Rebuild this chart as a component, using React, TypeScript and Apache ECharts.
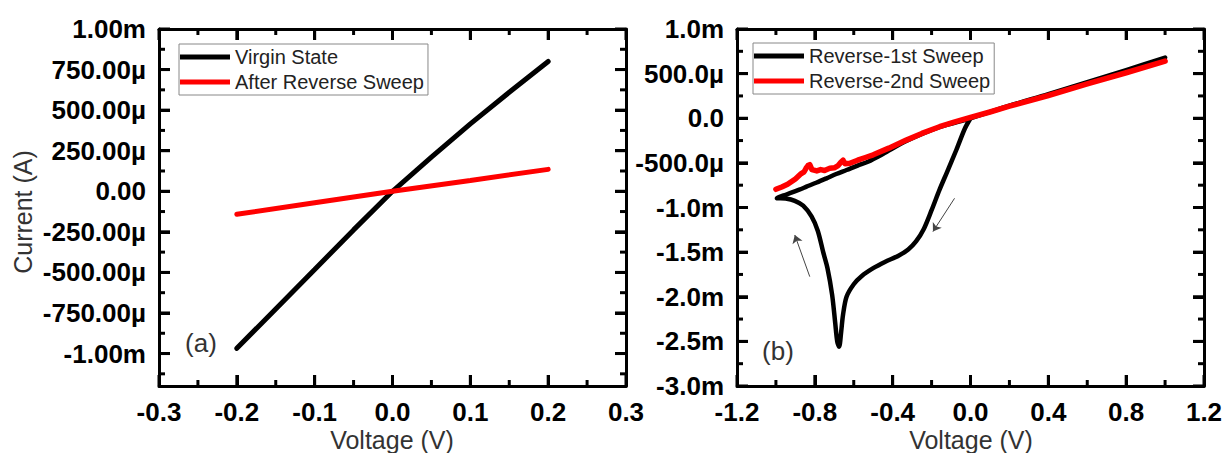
import React, { useEffect, useRef } from "react";
import * as echarts from "echarts";

// ---------- data (currents in mA, voltages in V) ----------
const virginState: [number, number][] = [
  [-0.2, -0.968], [-0.15, -0.725], [-0.1, -0.482], [-0.05, -0.238], [0, 0],
  [0.05, 0.21], [0.1, 0.415], [0.15, 0.61], [0.2, 0.8],
];
const afterReverseSweep: [number, number][] = [
  [-0.2, -0.142], [-0.1, -0.071], [0, 0], [0.1, 0.067], [0.2, 0.135],
];
const reverse1st: [number, number][] = [
  [0, 0], [-0.03, -0.12], [-0.073, -0.356], [-0.12, -0.6], [-0.159, -0.8],
  [-0.2, -1.03], [-0.24, -1.24], [-0.28, -1.38], [-0.32, -1.47], [-0.37, -1.54],
  [-0.44, -1.61], [-0.5, -1.68], [-0.56, -1.77], [-0.6, -1.86], [-0.637, -2.0],
  [-0.655, -2.2], [-0.665, -2.4], [-0.675, -2.56], [-0.685, -2.5], [-0.695, -2.3],
  [-0.711, -1.98], [-0.735, -1.68], [-0.757, -1.5], [-0.785, -1.26], [-0.817, -1.1],
  [-0.86, -0.98], [-0.903, -0.925], [-0.95, -0.9], [-0.995, -0.895],
  [-0.96, -0.865], [-0.928, -0.84], [-0.88, -0.8], [-0.843, -0.767], [-0.79, -0.72],
  [-0.74, -0.673], [-0.69, -0.625], [-0.637, -0.58], [-0.58, -0.53], [-0.527, -0.487],
  [-0.45, -0.4], [-0.33, -0.255], [-0.16, -0.1], [0, 0],
  [0.2, 0.14], [0.4, 0.27], [0.6, 0.405], [0.8, 0.54], [1.0, 0.68],
];
const reverse2nd: [number, number][] = [
  [-1.0, -0.796], [-0.97, -0.77], [-0.94, -0.74], [-0.9, -0.68], [-0.87, -0.62],
  [-0.855, -0.6], [-0.845, -0.56], [-0.835, -0.53], [-0.826, -0.52], [-0.815, -0.575], [-0.79, -0.59],
  [-0.77, -0.575], [-0.75, -0.585], [-0.723, -0.56], [-0.7, -0.555], [-0.68, -0.53],
  [-0.665, -0.49], [-0.655, -0.47], [-0.645, -0.51], [-0.62, -0.505], [-0.58, -0.47],
  [-0.54, -0.44], [-0.5, -0.41], [-0.42, -0.335], [-0.33, -0.245], [-0.25, -0.17],
  [-0.159, -0.095], [-0.08, -0.04], [0, 0.01], [0.1, 0.07], [0.2, 0.135],
  [0.4, 0.255], [0.6, 0.385], [0.8, 0.51], [1.0, 0.64],
];
// direction arrows in panel (b): [from, to]
const sweepArrows: [number, number][][] = [
  [[-0.082, -0.897], [-0.193, -1.27]],
  [[-0.826, -1.775], [-0.903, -1.308]],
];

// ---------- ticks ----------
const leftXMajor = [-0.3, -0.2, -0.1, 0, 0.1, 0.2, 0.3];
const leftXLabels = ["-0.3", "-0.2", "-0.1", "0.0", "0.1", "0.2", "0.3"];
const leftXMinor = [-0.25, -0.15, -0.05, 0.05, 0.15, 0.25];
const leftYMajor = [-1, -0.75, -0.5, -0.25, 0, 0.25, 0.5, 0.75, 1];
const leftYLabels = ["-1.00m", "-750.00µ", "-500.00µ", "-250.00µ", "0.00", "250.00µ", "500.00µ", "750.00µ", "1.00m"];
const leftYMinor = [-1.125, -0.875, -0.625, -0.375, -0.125, 0.125, 0.375, 0.625, 0.875];

const rightXMajor = [-1.2, -0.8, -0.4, 0, 0.4, 0.8, 1.2];
const rightXLabels = ["-1.2", "-0.8", "-0.4", "0.0", "0.4", "0.8", "1.2"];
const rightXMinor = [-1.0, -0.6, -0.2, 0.2, 0.6, 1.0];
const rightYMajor = [-3, -2.5, -2, -1.5, -1, -0.5, 0, 0.5, 1];
const rightYLabels = ["-3.0m", "-2.5m", "-2.0m", "-1.5m", "-1.0m", "-500.0µ", "0.0", "500.0µ", "1.0m"];
const rightYMinor = [-2.75, -2.25, -1.75, -1.25, -0.75, -0.25, 0.25, 0.75];

const FONT = "'Liberation Sans', Arial, sans-serif";
const MAJOR_LEN = 11;
const MINOR_LEN = 6;

function labelMap(vals: number[], labels: string[]) {
  return (v: number) => {
    for (let i = 0; i < vals.length; i++) if (Math.abs(vals[i] - v) < 1e-6) return labels[i];
    return "";
  };
}

export default function App() {
  const ref = useRef<HTMLDivElement>(null);
  useEffect(() => {
    if (!ref.current) return;
    const chart = echarts.init(ref.current, undefined, { renderer: "svg" });
    const leftRect = { left: 159, top: 29, width: 467, height: 357 };
    const rightRect = { left: 737, top: 29, width: 467, height: 357 };
    const LX: [number, number] = [-0.3, 0.3], LY: [number, number] = [-1.2, 1.0];
    const RX: [number, number] = [-1.2, 1.2], RY: [number, number] = [-3.0, 1.0];

    const grids: any[] = [];
    const xAxes: any[] = [];
    const yAxes: any[] = [];
    const line = { show: true, onZero: false, lineStyle: { color: "#000", width: 3 } };
    const lab = (vals: number[], labels: string[], margin: number) => ({
      show: true, customValues: vals, formatter: labelMap(vals, labels), margin,
      fontSize: 26, fontWeight: "bold", color: "#000", fontFamily: FONT,
    });
    const tk = (vals: number[]) => ({ show: true, inside: true, length: MAJOR_LEN, customValues: vals, lineStyle: { color: "#000", width: 3 } });
    const base = { type: "value", splitLine: { show: false } };

    const addMain = (rect: any, xr: [number, number], yr: [number, number], xM: number[], xL: string[], yM: number[], yL: string[]) => {
      const g = grids.length;
      grids.push({ ...rect, containLabel: false, outerBoundsMode: "none" });
      const xi = xAxes.length;
      xAxes.push({ ...base, gridIndex: g, position: "bottom", min: xr[0], max: xr[1], axisLine: line, axisTick: tk(xM), axisLabel: lab(xM, xL, 13) });
      xAxes.push({ ...base, gridIndex: g, position: "top", min: xr[0], max: xr[1], axisLine: line, axisTick: tk(xM), axisLabel: { show: false } });
      yAxes.push({ ...base, gridIndex: g, position: "left", min: yr[0], max: yr[1], axisLine: line, axisTick: tk(yM), axisLabel: lab(yM, yL, 13) });
      yAxes.push({ ...base, gridIndex: g, position: "right", min: yr[0], max: yr[1], axisLine: line, axisTick: tk(yM), axisLabel: { show: false } });
      return xi;
    };
    const L = addMain(leftRect, LX, LY, leftXMajor, leftXLabels, leftYMajor, leftYLabels);
    const R = addMain(rightRect, RX, RY, rightXMajor, rightXLabels, rightYMajor, rightYLabels);

    const legendCommon = {
      orient: "vertical", icon: "rect", itemWidth: 50, itemHeight: 5, itemGap: 5,
      borderColor: "#888", borderWidth: 1, padding: [3, 4, 3, 1],
      textStyle: { fontSize: 20, color: "#222", fontFamily: FONT },
    };
    const titleFont = `25px ${FONT}`;
    const texts = [
      { id: "ta", type: "text", x: 201, y: 343, style: { text: "(a)", font: `26px ${FONT}`, fill: "#333", align: "center", verticalAlign: "middle" } },
      { id: "tb", type: "text", x: 778, y: 351, style: { text: "(b)", font: `26px ${FONT}`, fill: "#333", align: "center", verticalAlign: "middle" } },
      { id: "tx1", type: "text", x: 392, y: 440, style: { text: "Voltage (V)", font: titleFont, fill: "#333", align: "center", verticalAlign: "middle" } },
      { id: "tx2", type: "text", x: 971, y: 440, style: { text: "Voltage (V)", font: titleFont, fill: "#333", align: "center", verticalAlign: "middle" } },
      { id: "ty", type: "text", x: 23, y: 212, rotation: Math.PI / 2, style: { text: "Current (A)", font: titleFont, fill: "#333", align: "center", verticalAlign: "middle" } },
    ];
    chart.setOption({
      animation: false,
      grid: grids,
      xAxis: xAxes,
      yAxis: yAxes,
      legend: [
        { ...legendCommon, left: 179, top: 44, data: ["Virgin State", "After Reverse Sweep"] },
        { ...legendCommon, left: 753, top: 43, data: ["Reverse-1st Sweep", "Reverse-2nd Sweep"] },
      ],
      series: [
        { name: "Virgin State", type: "line", xAxisIndex: L, yAxisIndex: L, data: virginState, showSymbol: false, symbol: "none", color: "#000", lineStyle: { color: "#000", width: 5, cap: "round" } },
        { name: "After Reverse Sweep", type: "line", xAxisIndex: L, yAxisIndex: L, data: afterReverseSweep, showSymbol: false, symbol: "none", color: "#f00", lineStyle: { color: "#f00", width: 5, cap: "round" } },
        {
          name: "Reverse-1st Sweep", type: "line", xAxisIndex: R, yAxisIndex: R, data: reverse1st, showSymbol: false, symbol: "none", smooth: 0.3, color: "#000",
          lineStyle: { color: "#000", width: 4.5, cap: "round", join: "round" },
          markLine: {
            silent: true, symbol: ["none", "arrow"], symbolSize: 8,
            lineStyle: { color: "#444", width: 1, type: "solid" }, label: { show: false },
            data: sweepArrows.map(([p, q]) => [{ coord: p }, { coord: q }]),
          },
        },
        { name: "Reverse-2nd Sweep", type: "line", xAxisIndex: R, yAxisIndex: R, data: reverse2nd, showSymbol: false, symbol: "none", color: "#f00", lineStyle: { color: "#f00", width: 5.5, cap: "round", join: "round" } },
      ],
      graphic: texts,
    });

    // inward ticks on all four sides, positioned through the axes' own scales
    const tickLines: any[] = [];
    const panels: [number, [number, number], [number, number], number[], number[], number[], number[]][] = [
      [0, LX, LY, leftXMajor, leftXMinor, leftYMajor, leftYMinor],
      [1, RX, RY, rightXMajor, rightXMinor, rightYMajor, rightYMinor],
    ];
    const st = () => ({ stroke: "#000", lineWidth: 3 });
    for (const [g, xr, yr, xM, xm, yM, ym] of panels) {
      const px = (x: number, y: number) => chart.convertToPixel({ gridIndex: g } as any, [x, y]) as number[];
      const xTicks: [number, number][] = [...xM.map((v) => [v, MAJOR_LEN] as [number, number]), ...xm.map((v) => [v, MINOR_LEN] as [number, number])];
      const yTicks: [number, number][] = [...yM.map((v) => [v, MAJOR_LEN] as [number, number]), ...ym.map((v) => [v, MINOR_LEN] as [number, number])];
      for (const [v, len] of xTicks) {
        const b = px(v, yr[0]), t = px(v, yr[1]);
        if (!b || !t) continue;
        tickLines.push({ type: "line", z: 100, silent: true, shape: { x1: b[0], y1: b[1], x2: b[0], y2: b[1] - len }, style: st() });
        tickLines.push({ type: "line", z: 100, silent: true, shape: { x1: t[0], y1: t[1], x2: t[0], y2: t[1] + len }, style: st() });
      }
      for (const [v, len] of yTicks) {
        const l = px(xr[0], v), r = px(xr[1], v);
        if (!l || !r) continue;
        tickLines.push({ type: "line", z: 100, silent: true, shape: { x1: l[0], y1: l[1], x2: l[0] + len, y2: l[1] }, style: st() });
        tickLines.push({ type: "line", z: 100, silent: true, shape: { x1: r[0], y1: r[1], x2: r[0] - len, y2: r[1] }, style: st() });
      }
    }
    chart.setOption({ graphic: [...texts, ...tickLines] });
    return () => chart.dispose();
  }, []);
  return <div ref={ref} style={{ position: "absolute", left: 0, top: 0, width: 1226, height: 453, background: "#fff" }} />;
}
